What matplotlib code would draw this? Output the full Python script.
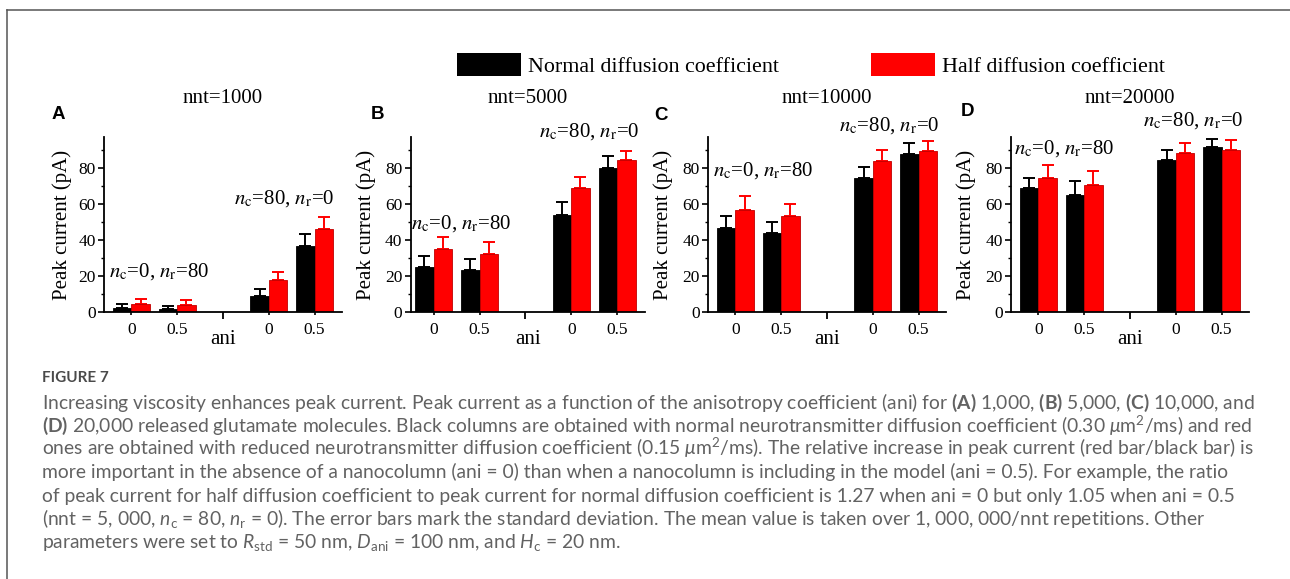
import numpy as np
import matplotlib
matplotlib.use('Agg')
import matplotlib.pyplot as plt
from matplotlib.patches import Patch
from matplotlib.lines import Line2D

#-------------------- data --------------------
xpos = [1, 2, 4, 5]                  # ani groups: n_c=0,n_r=80 then n_c=80,n_r=0
xlabels = ['0', '0.5', '0', '0.5']
nnt = [1000, 5000, 10000, 20000]
panel_letters = ['A', 'B', 'C', 'D']

normal_A = [2.0, 1.6, 9.0, 36.8]
normal_A_sd = [2.2, 2.0, 3.7, 6.3]
half_A = [4.3, 3.8, 17.6, 46.3]
half_A_sd = [3.0, 2.8, 4.8, 6.5]

normal_B = [25.2, 23.4, 54.0, 80.0]
normal_B_sd = [5.9, 6.0, 6.9, 6.5]
half_B = [35.0, 32.4, 68.6, 84.3]
half_B_sd = [6.4, 6.3, 6.3, 5.2]

normal_C = [46.9, 43.7, 74.4, 87.8]
normal_C_sd = [6.5, 6.5, 6.3, 6.1]
half_C = [56.9, 53.5, 83.9, 89.4]
half_C_sd = [7.4, 6.7, 6.1, 5.8]

normal_D = [69.0, 65.0, 84.6, 91.5]
normal_D_sd = [5.2, 7.6, 5.2, 4.6]
half_D = [74.3, 70.4, 88.3, 90.2]
half_D_sd = [7.4, 8.0, 5.4, 5.2]

normal_all = [normal_A, normal_B, normal_C, normal_D]
normal_sd_all = [normal_A_sd, normal_B_sd, normal_C_sd, normal_D_sd]
half_all = [half_A, half_B, half_C, half_D]
half_sd_all = [half_A_sd, half_B_sd, half_C_sd, half_D_sd]

#-------------------- layout (pixels) --------------------
W, H = 1290, 579
ax_left = [104, 410.7, 708, 1011]
ax_width = [238, 234, 238, 238]
x_lo = [0.4, 0.5, 0.4, 0.4]
ax_bottom, ax_top = 312, 137
ylab_x = [-0.135, -0.147, -0.147, -0.147]
# where the two "n_c / n_r" notes sit (data coords)
note1_xy = [(0.51, 19.5), (0.5, 46.5), (0.5, 76), (0.47, 88)]
note2_xy = [(3.24, 60), (3.3, 97.4), (3.27, 101), (3.29, 103.5)]
letter_xy = [(52, 119), (371, 119), (654, 120), (961, 116)]

RED = '#ff0000'

plt.rcParams['font.family'] = 'Liberation Serif'
plt.rcParams['mathtext.fontset'] = 'custom'
plt.rcParams['mathtext.rm'] = 'Lato'
plt.rcParams['mathtext.it'] = 'Lato:italic'
plt.rcParams['mathtext.bf'] = 'Lato:bold'

fig = plt.figure(figsize=(W / 100, H / 100), dpi=100)


def px_rect(left, width):
    return [left / W, 1 - ax_bottom / H, width / W, (ax_bottom - ax_top) / H]


for i in range(4):
    ax = fig.add_axes(px_rect(ax_left[i], ax_width[i]))
    xb = np.array(xpos) - 0.2
    xr = np.array(xpos) + 0.2
    ax.bar(xb, normal_all[i], width=0.4, color='black', edgecolor='black', linewidth=0.6, zorder=2)
    ax.bar(xr, half_all[i], width=0.4, color=RED, edgecolor='#c00000', linewidth=0.6, zorder=2)
    ax.errorbar(xb, normal_all[i], yerr=[np.zeros(4), normal_sd_all[i]], fmt='none',
                ecolor='black', elinewidth=1.4, capsize=4, capthick=1.4, zorder=1)
    ax.errorbar(xr, half_all[i], yerr=[np.zeros(4), half_sd_all[i]], fmt='none',
                ecolor=RED, elinewidth=1.4, capsize=4, capthick=1.4, zorder=1)

    ax.set_xlim(x_lo[i], 5.6)
    ax.set_ylim(0, 97.2)
    for s in ['top', 'right']:
        ax.spines[s].set_visible(False)
    for s in ['left', 'bottom']:
        ax.spines[s].set_linewidth(1.3)

    ax.set_xticks(xpos)
    ax.set_xticklabels(xlabels)
    ax.set_xticks([3], minor=True)
    ax.tick_params(axis='x', which='major', length=2, width=1.2, pad=5, labelsize=12.5)
    ax.tick_params(axis='x', which='minor', length=5, width=1.3)
    ax.set_yticks([0, 20, 40, 60, 80])
    ax.set_yticks([10, 30, 50, 70, 90], minor=True)
    ax.tick_params(axis='y', which='major', length=4, width=1.2, pad=2, labelsize=12.5)
    ax.tick_params(axis='y', which='minor', length=2.5, width=1.0)

    ax.set_ylabel('Peak current (pA)', fontsize=15)
    ax.yaxis.set_label_coords(ylab_x[i], 0.5)
    ax.set_xlabel('ani', fontsize=15)
    ax.xaxis.set_label_coords(0.5, -0.105)

    ax.text(0.5, (ax_bottom - 102.5) / (ax_bottom - ax_top), 'nnt=%d' % nnt[i],
            transform=ax.transAxes, ha='center', va='baseline', fontsize=15)

    ax.text(note1_xy[i][0], note1_xy[i][1], r'$n_{\rm c}$=0, $n_{\rm r}$=80',
            fontsize=15, math_fontfamily='stix', va='baseline', clip_on=False)
    ax.text(note2_xy[i][0], note2_xy[i][1], r'$n_{\rm c}$=80, $n_{\rm r}$=0',
            fontsize=15, math_fontfamily='stix', va='baseline', clip_on=False)

    fig.text(letter_xy[i][0] / W, 1 - letter_xy[i][1] / H, panel_letters[i],
             fontfamily='Liberation Sans', fontweight='bold', fontsize=13.5, va='baseline')

# legend over the panels
handles = [Patch(facecolor='black', edgecolor='none', label='Normal diffusion coefficient'),
           Patch(facecolor=RED, edgecolor='none', label='Half diffusion coefficient')]
fig.legend(handles=handles, loc='center left', bbox_to_anchor=(457 / W, 1 - 65 / H),
           ncol=2, frameon=False, fontsize=15.8, handlelength=2.9, handleheight=1.2,
           handletextpad=0.33, columnspacing=4.2, borderpad=0, borderaxespad=0)

# caption
GREY = '#626262'
fig.text(42 / W, 1 - 382 / H, 'FIGURE 7', fontfamily='Lato', fontweight='bold',
         fontsize=11, color='#4a4a4a', va='baseline')
caption = [
    r'Increasing viscosity enhances peak current. Peak current as a function of the anisotropy coefficient (ani) for $\mathbf{(A)}$ 1,000, $\mathbf{(B)}$ 5,000, $\mathbf{(C)}$ 10,000, and',
    r'$\mathbf{(D)}$ 20,000 released glutamate molecules. Black columns are obtained with normal neurotransmitter diffusion coefficient (0.30 $\mu$m$^2$/ms) and red',
    r'ones are obtained with reduced neurotransmitter diffusion coefficient (0.15 $\mu$m$^2$/ms). The relative increase in peak current (red bar/black bar) is',
    r'more important in the absence of a nanocolumn (ani = 0) than when a nanocolumn is including in the model (ani = 0.5). For example, the ratio',
    r'of peak current for half diffusion coefficient to peak current for normal diffusion coefficient is 1.27 when ani = 0 but only 1.05 when ani = 0.5',
    r'(nnt = 5, 000, $n_{\rm c}$ = 80, $n_{\rm r}$ = 0). The error bars mark the standard deviation. The mean value is taken over 1, 000, 000/nnt repetitions. Other',
    r'parameters were set to $R_{\rm std}$ = 50 nm, $D_{\rm ani}$ = 100 nm, and $H_{\rm c}$ = 20 nm.',
]
base_y = [409, 432, 455, 478, 502, 525, 548]
for line, yb in zip(caption, base_y):
    fig.text(42 / W, 1 - yb / H, line, fontfamily='Lato', fontsize=13.85, color=GREY, va='baseline')

# outer frame: top and left edges
fig.add_artist(Line2D([7 / W, 1], [1 - 10 / H, 1 - 10 / H], color='#555555', linewidth=1.1))
fig.add_artist(Line2D([7 / W, 7 / W], [0, 1 - 10 / H], color='#555555', linewidth=1.1))

fig.savefig('out.png', dpi=100)
